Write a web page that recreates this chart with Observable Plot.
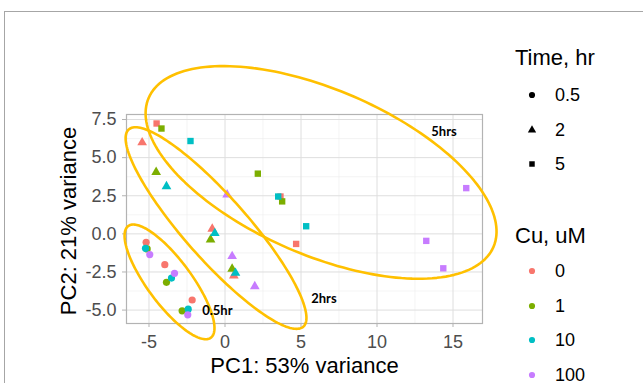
<!DOCTYPE html>
<html>
<head>
<meta charset="utf-8">
<script src="https://cdn.jsdelivr.net/npm/d3@7"></script>
<script src="https://cdn.jsdelivr.net/npm/@observablehq/plot@0.6"></script>
<style>
  html, body { margin: 0; padding: 0; background: #fff; }
  #wrap { position: relative; width: 643px; height: 383px; overflow: hidden; font-family: "Liberation Sans", Arial, sans-serif; }
  #frame { position: absolute; left: 4px; top: 11px; width: 700px; height: 420px; border-top: 1px solid #a6a6a6; border-left: 1px solid #a6a6a6; }
  #chart { position: absolute; left: 0; top: 0; }
  .lg { position: absolute; color: #000; }
  .lgTitle { font-size: 22px; line-height: 22px; }
  .lgItem { font-size: 18px; line-height: 18px; }
</style>
</head>
<body>
<div id="wrap">
  <div id="frame"></div>
  <div id="chart"></div>
  <div id="legend"></div>
</div>
<script>
// ---- data ----
const time   = ["0.5","0.5","0.5","0.5","0.5","0.5","0.5","0.5","0.5","0.5","0.5","0.5",
                "2","2","2","2","2","2","2","2","2","2","2","2",
                "5","5","5","5","5","5","5","5","5","5","5","5"];
const cu     = ["0","0","0","1","1","1","10","10","10","100","100","100",
                "0","0","0","1","1","1","10","10","10","100","100","100",
                "0","0","0","1","1","1","10","10","10","100","100","100"];
const pc1    = [-5.19,-3.96,-2.16, -5.12,-3.85,-2.82, -5.23,-3.52,-2.42, -4.95,-3.32,-2.45,
                -5.45,-0.84,0.58, -4.53,-0.95,0.47, -3.85,-0.67,0.69, 0.14,0.47,1.96,
                -4.50,3.65,4.68, -4.18,2.16,3.76, -2.27,3.50,5.34, 15.87,13.24,14.36];
const pc2    = [-0.55,-2.02,-4.34, -0.99,-3.18,-5.05, -0.95,-2.90,-4.94, -1.36,-2.59,-5.31,
                5.99,0.33,-2.74, 4.05,-0.38,-2.30, 3.11,0.04,-2.57, 2.57,-1.47,-3.45,
                7.24,2.45,-0.66, 6.91,3.95,2.13, 6.09,2.45,0.50, 3.00,-0.46,-2.26];

const timeLevels = ["0.5","2","5"];
const timeShapes = ["circle","triangle","square"];
const cuLevels   = ["0","1","10","100"];
const cuColors   = ["#F8766D","#7CAE00","#00BFC4","#C77CFF"];

const xTicks = [-5, 0, 5, 10, 15];
const yTicks = [-5, -2.5, 0, 2.5, 5, 7.5];
const xMinor = [-2.5, 2.5, 7.5, 12.5];
const yMinor = [-3.75, -1.25, 1.25, 3.75, 6.25];

// annotation ellipses: label, centre (data units), semi-axes, tilt (deg)
const ellLabel = ["0.5hr", "2hrs", "5hrs"];
const ellCx    = [-3.65, -0.59, 6.32];
const ellCy    = [-3.15, 0.38, 4.03];
const ellA     = [4.56, 8.65, 12.35];
const ellB     = [1.45, 2.07, 5.42];
const ellAng   = [-53.4, -48.4, -23.3];
const labX     = [-1.5, 5.67, 13.57];
const labY     = [-5.07, -4.26, 6.68];

const xLabel = "PC1: 53% variance";
const yLabel = "PC2: 21% variance";

// ---- build tables ----
const points = pc1.map((x, i) => ({x, y: pc2[i], time: time[i], cu: cu[i]}));
const ellPts = [];
ellLabel.forEach((lab, k) => {
  const t = ellAng[k] * Math.PI / 180;
  for (let j = 0; j <= 180; j++) {
    const u = j / 180 * 2 * Math.PI;
    const ex = ellA[k] * Math.cos(u), ey = ellB[k] * Math.sin(u);
    ellPts.push({e: lab, x: ellCx[k] + ex * Math.cos(t) - ey * Math.sin(t), y: ellCy[k] + ex * Math.sin(t) + ey * Math.cos(t)});
  }
});
const labels = ellLabel.map((t, k) => ({t, x: labX[k], y: labY[k]}));

const fmt = d => d.toFixed(1);

const chart = Plot.plot({
  width: 643, height: 383,
  marginLeft: 126, marginRight: 161, marginTop: 114, marginBottom: 60,
  style: {fontFamily: "Liberation Sans, Arial, sans-serif", fontSize: "18px", background: "transparent", overflow: "visible"},
  x: {domain: [-6.48, 16.94]},
  y: {domain: [-5.88, 7.83]},
  color: {domain: cuLevels, range: cuColors},
  symbol: {domain: timeLevels, range: timeShapes},
  marks: [
    Plot.gridX(xMinor, {stroke: "#ededed", strokeOpacity: 1, strokeWidth: 0.6}),
    Plot.gridY(yMinor, {stroke: "#ededed", strokeOpacity: 1, strokeWidth: 0.6}),
    Plot.gridX(xTicks, {stroke: "#dedede", strokeOpacity: 1, strokeWidth: 1}),
    Plot.gridY(yTicks, {stroke: "#dedede", strokeOpacity: 1, strokeWidth: 1}),
    Plot.axisX(xTicks, {label: null, tickSize: 4, tickPadding: 8, stroke: "#b3b3b3", fill: "#4d4d4d", tickFormat: d => String(d), fontSize: 18}),
    Plot.axisY(yTicks, {label: null, tickSize: 4, tickPadding: 6, stroke: "#b3b3b3", fill: "#4d4d4d", tickFormat: fmt, fontSize: 18}),
    Plot.frame({stroke: "#b3b3b3", strokeWidth: 1.2}),
    Plot.dot(points, {x: "x", y: "y", fill: "cu", symbol: "time", r: 3.6}),
    Plot.line(ellPts, {x: "x", y: "y", z: "e", stroke: "#FFC000", strokeWidth: 2.6}),
    Plot.text(labels, {x: "x", y: "y", text: "t", textAnchor: "start", fontFamily: "Lato, Open Sans, sans-serif", fontWeight: "bold", fontSize: 13, fill: "#000"}),
    Plot.text([xLabel], {frameAnchor: "bottom", textAnchor: "middle", lineAnchor: "middle", dy: 42, text: d => d, fontSize: 22, fill: "#000"}),
    Plot.text([yLabel], {frameAnchor: "left", textAnchor: "middle", lineAnchor: "middle", dx: -58, dy: 2, rotate: -90, text: d => d, fontSize: 22, fill: "#000"})
  ]
});
document.getElementById("chart").appendChild(chart);

// ---- legend ----
const lg = document.getElementById("legend");
function addTitle(txt, top) {
  const d = document.createElement("div");
  d.className = "lg lgTitle"; d.textContent = txt;
  d.style.left = "515px"; d.style.top = (top - 11) + "px";
  lg.appendChild(d);
}
function addItem(label, cy, shape, color) {
  const s = d3.create("svg").attr("width", 12).attr("height", 12)
    .style("position", "absolute").style("left", "526px").style("top", (cy - 6) + "px");
  const sym = shape === "circle" ? d3.symbolCircle : shape === "triangle" ? d3.symbolTriangle : d3.symbolSquare;
  s.append("path").attr("transform", "translate(6,6)").attr("d", d3.symbol(sym, 30)()).attr("fill", color);
  lg.appendChild(s.node());
  const d = document.createElement("div");
  d.className = "lg lgItem"; d.textContent = label;
  d.style.left = "555px"; d.style.top = (cy - 9) + "px";
  lg.appendChild(d);
}
addTitle("Time, hr", 58);
timeLevels.forEach((t, i) => addItem(t, 95 + i * 34.5, timeShapes[i], "#000"));
addTitle("Cu, uM", 236);
cuLevels.forEach((c, i) => addItem(c, 271 + i * 34.5, "circle", cuColors[i]));
</script>
</body>
</html>
